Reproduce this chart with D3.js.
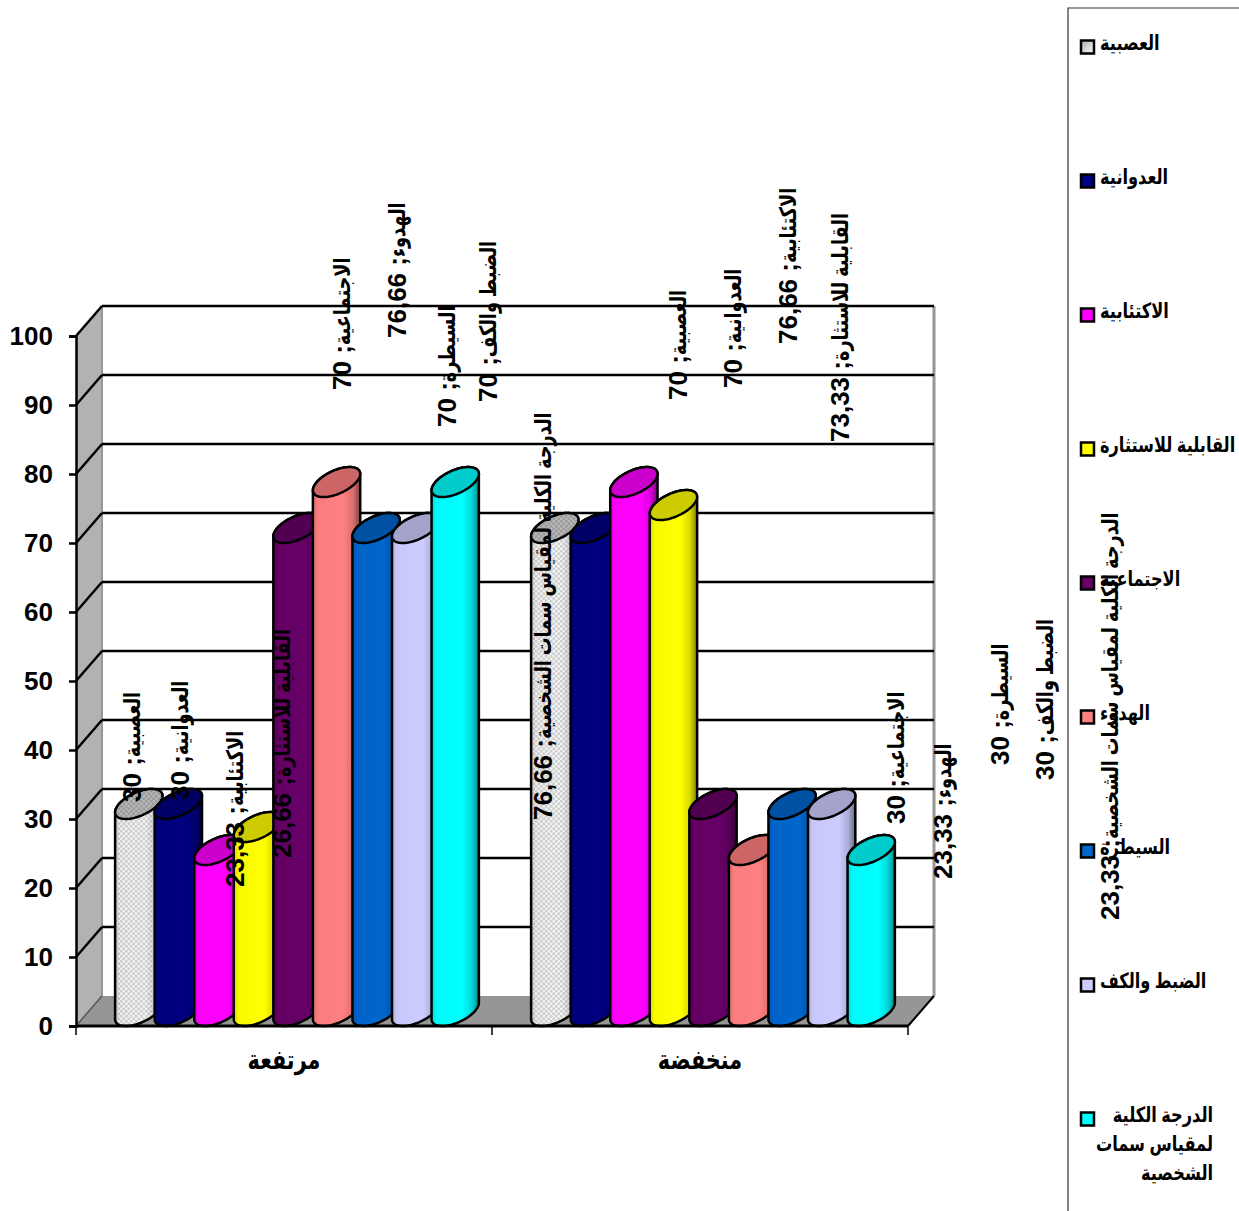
<!DOCTYPE html>
<html>
<head>
<meta charset="utf-8">
<script src="https://cdn.jsdelivr.net/npm/d3@7"></script>
<style>
	body { margin: 0; background: #fff; }
	svg { display: block; }
	text { font-family: "Liberation Sans", "DejaVu Sans", sans-serif; font-weight: bold; fill: #000; }
</style>
</head>
<body>
<script>
const groups = [ 'مرتفعة', 'منخفضة' ],
	series = [ 'العصبية', 'العدوانية', 'الاكتئابية', 'القابلية للاستثارة', 'الاجتماعية', 'الهدوء', 'السيطرة', 'الضبط والكف', 'الدرجة الكلية لمقياس سمات الشخصية' ],
	high = [ 30, 30, 23.33, 26.66, 70, 76.66, 70, 70, 76.66 ],
	low = [ 70, 70, 76.66, 73.33, 30, 23.33, 30, 30, 23.33 ],
	ticks = [ 0, 10, 20, 30, 40, 50, 60, 70, 80, 90, 100 ],
	colors = [ '#e6e6e6', '#000080', '#ff00ff', '#ffff00', '#660066', '#ff8080', '#0066cc', '#ccccff', '#00ffff' ],
	lastLegendLines = [ 'الدرجة الكلية', 'لمقياس سمات', 'الشخصية' ]

// De labels zijn in het origineel handmatig versleept: x-midden en onderkant per label
const labelPos = [
	[ 132, 802 ], [ 180, 800 ], [ 235, 887 ], [ 282, 858 ], [ 342, 390 ], [ 397, 338 ], [ 447, 427 ], [ 488, 402 ], [ 543, 820 ],
	[ 678, 400 ], [ 733, 388 ], [ 788, 344 ], [ 840, 442 ], [ 896, 824 ], [ 943, 879 ], [ 1000, 765 ], [ 1045, 780 ], [ 1110, 920 ]
]

const width = 1239,
	height = 1211,
	depthX = 26,
	depthY = 30,
	left = 76,
	right = 908,
	arabicScale = 0.77, // Arabische tekst is breder dan in het origineel
	fmt = v => String( v ).replace( '.', ',' )

const y = d3.scaleLinear().domain( [ 0, 100 ] ).range( [ 1026, 336 ] ),
	x0 = d3.scaleBand().domain( groups ).range( [ left, right ] ),
	x1 = d3.scaleBand().domain( series ).range( [ 30, x0.bandwidth() - 30 ] )

const svg = d3.select( 'body' ).append( 'svg' )
	.attr( 'width', width )
	.attr( 'height', height )

const defs = svg.append( 'defs' )

// Schaduw over de cilinder
const shade = defs.append( 'linearGradient' ).attr( 'id', 'shade' )
shade.selectAll( 'stop' )
	.data( [ [ 0, 0.16 ], [ 0.1, 0.02 ], [ 0.65, 0 ], [ 0.85, 0.15 ], [ 1, 0.5 ] ] )
	.enter().append( 'stop' )
	.attr( 'offset', d => d[ 0 ] )
	.attr( 'stop-color', '#000' )
	.attr( 'stop-opacity', d => d[ 1 ] )

// Legenda-vakje van de eerste serie
const keyGrey = defs.append( 'linearGradient' ).attr( 'id', 'key-grey' )
	.attr( 'x2', 1 ).attr( 'y2', 1 )
keyGrey.append( 'stop' ).attr( 'offset', 0 ).attr( 'stop-color', '#aaa' )
keyGrey.append( 'stop' ).attr( 'offset', 1 ).attr( 'stop-color', '#fff' )

// Ruitjes voor de eerste serie
const checker = defs.append( 'pattern' )
	.attr( 'id', 'checker' )
	.attr( 'width', 5 )
	.attr( 'height', 5 )
	.attr( 'patternUnits', 'userSpaceOnUse' )
checker.append( 'rect' ).attr( 'width', 5 ).attr( 'height', 5 ).attr( 'fill', '#f4f4f4' )
checker.append( 'rect' ).attr( 'width', 2.5 ).attr( 'height', 2.5 ).attr( 'fill', '#cfcfcf' )
checker.append( 'rect' ).attr( 'x', 2.5 ).attr( 'y', 2.5 ).attr( 'width', 2.5 ).attr( 'height', 2.5 ).attr( 'fill', '#cfcfcf' )

const fillOf = i => i === 0 ? 'url(#checker)' : colors[ i ]

// Zijwand, vloer en achterwand
svg.append( 'polygon' )
	.attr( 'points', [ [ left, y( 0 ) ], [ left + depthX, y( 0 ) - depthY ], [ left + depthX, y( 100 ) - depthY ], [ left, y( 100 ) ] ].join( ' ' ) )
	.attr( 'fill', '#b2b2b2' )

svg.append( 'polygon' )
	.attr( 'points', [ [ left, y( 0 ) ], [ left + depthX, y( 0 ) - depthY ], [ right + depthX, y( 0 ) - depthY ], [ right, y( 0 ) ] ].join( ' ' ) )
	.attr( 'fill', '#969696' )

svg.append( 'line' )
	.attr( 'x1', right + depthX ).attr( 'x2', right + depthX )
	.attr( 'y1', y( 100 ) - depthY ).attr( 'y2', y( 0 ) - depthY )
	.attr( 'stroke', '#969696' )
	.attr( 'stroke-width', 3 )

svg.append( 'line' )
	.attr( 'x1', left + depthX ).attr( 'x2', left + depthX )
	.attr( 'y1', y( 100 ) - depthY ).attr( 'y2', y( 0 ) - depthY )
	.attr( 'stroke', '#969696' )
	.attr( 'stroke-width', 2 )

// Rasterlijnen
const grid = svg.append( 'g' ).selectAll( 'g' )
	.data( ticks.filter( d => d > 0 ) )
	.enter().append( 'g' )
	.attr( 'stroke', '#000' )
	.attr( 'stroke-width', 2.5 )

grid.append( 'line' )
	.attr( 'x1', left ).attr( 'y1', d => y( d ) )
	.attr( 'x2', left + depthX ).attr( 'y2', d => y( d ) - depthY )

grid.append( 'line' )
	.attr( 'x1', left + depthX ).attr( 'y1', d => y( d ) - depthY )
	.attr( 'x2', right + depthX ).attr( 'y2', d => y( d ) - depthY )

svg.append( 'polyline' )
	.attr( 'points', [ [ left, y( 0 ) ], [ left + depthX, y( 0 ) - depthY ] ].join( ' ' ) )
	.attr( 'stroke', '#555' )
	.attr( 'stroke-width', 1.5 )
	.attr( 'fill', 'none' )

svg.append( 'polyline' )
	.attr( 'points', [ [ right, y( 0 ) ], [ right + depthX, y( 0 ) - depthY ] ].join( ' ' ) )
	.attr( 'stroke', '#000' )
	.attr( 'stroke-width', 2 )
	.attr( 'fill', 'none' )

// Cilinders: ellips in het parallellogram van de bodem
function cylinder( g, xLeft, value, i ) {

	const a = x1.bandwidth() / 2,
		cx = xLeft + a + depthX / 2,
		t0 = Math.atan2( depthX / 2, a ),
		yBottom = y( 0 ) - depthY / 2,
		yTop = y( value ) - depthY / 2,
		pt = ( t, cy ) => [ cx + Math.cos( t ) * a + Math.sin( t ) * depthX / 2, cy - Math.sin( t ) * depthY / 2 ],
		line = d3.line(),
		steps = 48,
		lower = d3.range( steps + 1 ).map( k => pt( t0 + Math.PI + Math.PI * k / steps, yBottom ) ),
		upper = d3.range( steps + 1 ).map( k => pt( t0 + Math.PI * k / steps, yTop ) ),
		capLow = d3.range( steps + 1 ).map( k => pt( t0 + Math.PI + Math.PI * k / steps, yTop ) ),
		body = line( lower.concat( upper ) ) + 'Z',
		cap = line( upper.concat( capLow ) ) + 'Z'

	g.append( 'path' ).attr( 'd', body ).attr( 'fill', fillOf( i ) )
	g.append( 'path' ).attr( 'd', body ).attr( 'fill', 'url(#shade)' ).attr( 'stroke', '#000' ).attr( 'stroke-width', 2.5 )
	g.append( 'path' ).attr( 'd', cap ).attr( 'fill', fillOf( i ) )
	g.append( 'path' ).attr( 'd', cap ).attr( 'fill', '#000' ).attr( 'fill-opacity', i === 0 ? 0.25 : 0.2 ).attr( 'stroke', '#000' ).attr( 'stroke-width', 2.5 )

}

const bars = svg.append( 'g' )

groups.forEach( ( group, g ) => {

	const values = g === 0 ? high : low

	series.forEach( ( s, i ) => {

		cylinder( bars.append( 'g' ), x0( group ) + x1( s ), values[ i ], i )

	})

})

// Assen
const axisLeft = svg.append( 'g' )
	.attr( 'transform', `translate( ${ left }, 0 )` )
	.call( d3.axisLeft( y ).tickValues( ticks ).tickSize( 7 ).tickPadding( 16 ) )

const axisBottom = svg.append( 'g' )
	.attr( 'transform', `translate( 0, ${ y( 0 ) } )` )
	.call( d3.axisBottom( x0 ).tickSize( 0 ).tickPadding( 24 ) )

axisLeft.selectAll( 'path, line' ).attr( 'stroke', '#000' ).attr( 'stroke-width', 2.5 )
axisLeft.selectAll( 'text' ).style( 'font-size', '26px' ).style( 'font-family', '"Liberation Sans"' ).style( 'font-weight', 'bold' )

axisBottom.select( 'path' ).attr( 'stroke', '#000' ).attr( 'stroke-width', 3 ).attr( 'd', `M${ left },0H${ right }` )
axisBottom.selectAll( 'text' )
	.style( 'font-size', '27px' )
	.style( 'font-family', '"Liberation Sans", "DejaVu Sans"' )
	.style( 'font-weight', 'bold' )
	.attr( 'transform', `scale( ${ arabicScale }, 1 )` )

svg.append( 'g' ).selectAll( 'line' )
	.data( [ left, x0( groups[ 1 ] ), right ] )
	.enter().append( 'line' )
	.attr( 'x1', d => d ).attr( 'x2', d => d )
	.attr( 'y1', y( 0 ) ).attr( 'y2', y( 0 ) + 9 )
	.attr( 'stroke', '#000' )
	.attr( 'stroke-width', 1.5 )

// Data labels: waarde onderaan, naam erboven
const labels = high.concat( low ).map( ( v, i ) => ( {
	name: series[ i % series.length ],
	value: fmt( v ),
	pos: labelPos[ i ]
} ) )

const label = svg.append( 'g' ).selectAll( 'g' )
	.data( labels )
	.enter().append( 'g' )
	.attr( 'transform', d => `translate( ${ d.pos[ 0 ] }, ${ d.pos[ 1 ] } ) rotate( -90 )` )

label.append( 'text' )
	.attr( 'class', 'value' )
	.style( 'direction', 'rtl' )
	.attr( 'text-anchor', 'end' )
	.attr( 'dy', '.35em' )
	.attr( 'font-size', 26 )
	.text( d => `; ${ d.value }` )

label.append( 'text' )
	.style( 'direction', 'rtl' )
	.attr( 'text-anchor', 'end' )
	.attr( 'dy', '.35em' )
	.attr( 'font-size', 23 )
	.attr( 'transform', function() {
		const offset = this.parentNode.querySelector( '.value' ).getComputedTextLength()
		return `translate( ${ offset }, 0 ) scale( ${ arabicScale }, 1 )`
	})
	.text( d => d.name )

// Legenda
svg.append( 'path' )
	.attr( 'd', `M${ width },8H1068V${ height }` )
	.attr( 'fill', 'none' )
	.attr( 'stroke', '#333' )
	.attr( 'stroke-width', 1.2 )

const legendY = d3.scalePoint().domain( series ).range( [ 47, 1119 ] )

const item = svg.append( 'g' ).selectAll( 'g' )
	.data( series )
	.enter().append( 'g' )
	.attr( 'transform', d => `translate( 1081, ${ legendY( d ) } )` )

item.append( 'rect' )
	.attr( 'y', -6.5 )
	.attr( 'width', 13 )
	.attr( 'height', 13 )
	.attr( 'fill', ( d, i ) => i === 0 ? 'url(#key-grey)' : colors[ i ] )
	.attr( 'stroke', '#000' )
	.attr( 'stroke-width', 2.5 )

item.filter( ( d, i ) => i < series.length - 1 ).append( 'text' )
	.style( 'direction', 'rtl' )
	.attr( 'text-anchor', 'end' )
	.attr( 'dy', '.3em' )
	.attr( 'font-size', 21 )
	.attr( 'transform', `translate( 19, -3 ) scale( ${ arabicScale }, 1 )` )
	.text( d => d )

svg.append( 'g' ).selectAll( 'text' )
	.data( lastLegendLines )
	.enter().append( 'text' )
	.style( 'direction', 'rtl' )
	.attr( 'text-anchor', 'start' )
	.attr( 'font-size', 21 )
	.attr( 'transform', ( d, i ) => `translate( 1213, ${ 1122 + i * 29 } ) scale( ${ arabicScale }, 1 )` )
	.text( d => d )
</script>
</body>
</html>
